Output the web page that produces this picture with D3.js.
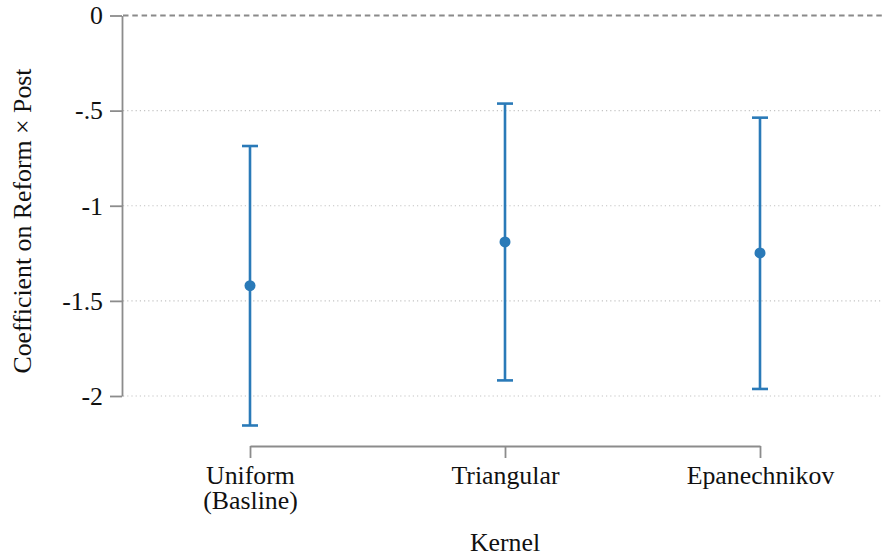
<!DOCTYPE html>
<html>
<head>
<meta charset="utf-8">
<script src="https://cdn.jsdelivr.net/npm/d3@7"></script>
<style>
  body { margin: 0; background: #fff; }
  svg { display: block; font-family: "Liberation Serif", "Times New Roman", serif; }
</style>
</head>
<body>
<div id="chart"></div>
<script>
var svgWidth = 883;
var svgHeight = 556;

// data
var kernels = ["Uniform|(Basline)", "Triangular", "Epanechnikov"];
var coef = [-1.42, -1.19, -1.248];
var ciLow = [-2.155, -1.918, -1.963];
var ciHigh = [-0.686, -0.463, -0.537];
var yTicks = [0, -0.5, -1, -1.5, -2];
var yTickLabels = ["0", "-.5", "-1", "-1.5", "-2"];

var blue = "#2a7ab8";
var axisGray = "#8c8c8c";
var serif = '"Liberation Serif", "Times New Roman", serif';
var fs = 25.8;

var svg = d3.select("#chart").append("svg")
  .attr("width", svgWidth)
  .attr("height", svgHeight);

var y = d3.scaleLinear().domain([-2, 0]).range([396, 15.5]);
var x = d3.scalePoint().domain(kernels).range([250, 760]);

var axisLeftX = 122;
var axisBottomY = 446;

// grid lines
svg.append("g").selectAll("line")
  .data(yTicks.filter(d => d !== 0))
  .enter().append("line")
  .attr("x1", axisLeftX + 1).attr("x2", svgWidth)
  .attr("y1", d => y(d)).attr("y2", d => y(d))
  .attr("stroke", "#c4c4c4")
  .attr("stroke-width", 1.2)
  .attr("stroke-dasharray", "1.2,3");

// zero line
svg.append("line")
  .attr("x1", axisLeftX + 1).attr("x2", svgWidth)
  .attr("y1", y(0)).attr("y2", y(0))
  .attr("stroke", "#8a8a8a")
  .attr("stroke-width", 1.8)
  .attr("stroke-dasharray", "5.5,3.8");

// y axis
var leftAxis = d3.axisLeft(y)
  .tickValues(yTicks)
  .tickFormat((d, i) => yTickLabels[i])
  .tickSizeInner(12)
  .tickSizeOuter(0)
  .tickPadding(7);

var gy = svg.append("g")
  .attr("transform", `translate(${axisLeftX},0)`)
  .call(leftAxis)
  .attr("font-family", serif)
  .attr("font-size", fs);
gy.select(".domain").attr("stroke", axisGray).attr("stroke-width", 1.8);
gy.selectAll(".tick line").attr("stroke", axisGray).attr("stroke-width", 1.8);
gy.selectAll(".tick text").attr("dy", "0.32em").attr("fill", "#111");

// x axis
var bottomAxis = d3.axisBottom(x)
  .tickSizeInner(12)
  .tickSizeOuter(0)
  .tickFormat("");

var gx = svg.append("g")
  .attr("transform", `translate(0,${axisBottomY})`)
  .call(bottomAxis)
  .attr("font-family", serif)
  .attr("font-size", fs);
gx.select(".domain").attr("stroke", axisGray).attr("stroke-width", 1.8);
gx.selectAll(".tick line").attr("stroke", axisGray).attr("stroke-width", 1.8);

gx.selectAll(".tick").each(function(d) {
  var lines = d.split("|");
  var t = d3.select(this).append("text")
    .attr("text-anchor", "middle")
    .attr("fill", "#111");
  lines.forEach(function(l, i) {
    t.append("tspan").attr("x", 0).attr("y", 38 + i * 25).text(l);
  });
});

// axis titles
svg.append("text")
  .attr("x", 505).attr("y", 551)
  .attr("text-anchor", "middle")
  .attr("fill", "#111")
  .style("font-size", fs + "px")
  .text("Kernel");

svg.append("text")
  .attr("transform", "translate(31,221) rotate(-90)")
  .attr("text-anchor", "middle")
  .attr("fill", "#111")
  .style("font-size", fs + "px")
  .text("Coefficient on Reform \u00d7 Post");

// error bars
var bars = svg.append("g");
var capW = 8;
kernels.forEach(function(k, i) {
  var cx = x(k);
  bars.append("line")
    .attr("x1", cx).attr("x2", cx)
    .attr("y1", y(ciLow[i])).attr("y2", y(ciHigh[i]))
    .attr("stroke", blue).attr("stroke-width", 2.6);
  [ciLow[i], ciHigh[i]].forEach(function(v) {
    bars.append("line")
      .attr("x1", cx - capW).attr("x2", cx + capW)
      .attr("y1", y(v)).attr("y2", y(v))
      .attr("stroke", blue).attr("stroke-width", 2.6);
  });
  bars.append("circle")
    .attr("cx", cx).attr("cy", y(coef[i]))
    .attr("r", 5.5)
    .attr("fill", blue);
});
</script>
</body>
</html>
